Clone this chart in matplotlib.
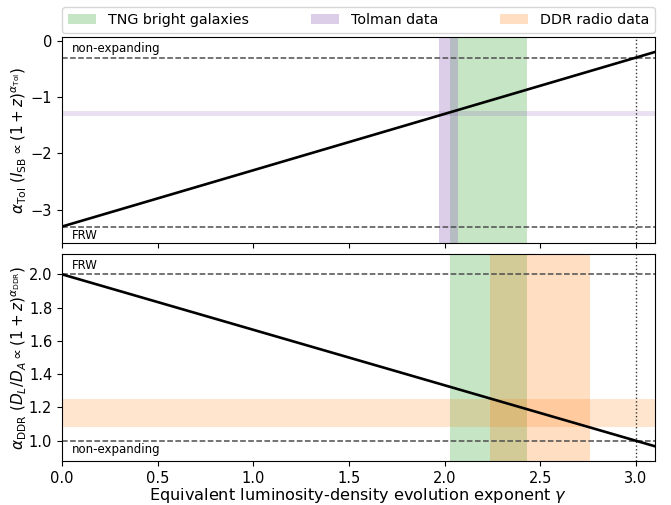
import numpy as np
from matplotlib import pyplot as plt

# equivalent evolution exponent range
gamma = np.array([0.0, 3.1])

# Tolman exponent: alpha_Tol = gamma - 3.3
tol_frw = -3.3
tol_static = -0.3
tol_line = gamma + tol_frw

# distance-duality exponent: alpha_DDR = 2 - gamma / 3
ddr_frw = 2.0
ddr_static = 1.0
ddr_line = ddr_frw - gamma / 3.0

# measured ranges
tng_gamma_top = [2.03, 2.43]
tng_gamma_bot = [2.03, 2.43]
tolman_gamma = [1.97, 2.07]
tolman_alpha = [-1.33, -1.24]
ddr_gamma = [2.24, 2.76]
ddr_alpha = [1.08, 1.25]

fig = plt.figure(figsize=(6.71, 5.05), dpi=100)
ax1 = fig.add_axes([0.0924, 0.519, 0.8836, 0.4077])
ax2 = fig.add_axes([0.0924, 0.0871, 0.8836, 0.4099], sharex=ax1)

green = 'tab:green'
purple = 'tab:purple'
orange = 'tab:orange'

# top panel: Tolman test
ax1.axvspan(*tng_gamma_top, color=green, alpha=0.27, lw=0, label='TNG bright galaxies')
ax1.axvspan(*tolman_gamma, color=purple, alpha=0.32, lw=0, label='Tolman data')
ax1.axhspan(*tolman_alpha, color=purple, alpha=0.2, lw=0)
ax1.axhline(tol_static, color='0.3', ls='--', lw=1.1)
ax1.axhline(tol_frw, color='0.3', ls='--', lw=1.1)
ax1.axvline(3.0, color='0.2', ls=':', lw=1)
ax1.plot(gamma, tol_line, color='k', lw=1.9)
ax1.text(0.05, tol_static + 0.05, 'non-expanding', fontsize=8.5, va='bottom')
ax1.text(0.05, tol_frw - 0.05, 'FRW', fontsize=8.5, va='top')
ax1.set_ylim(-3.59, 0.066)
ax1.set_yticks([0, -1, -2, -3])
ax1.set_ylabel(r'$\alpha_{\rm Tol}$ ($I_{\rm SB} \propto (1+z)^{\alpha_{\rm Tol}}$)', fontsize=11)
ax1.tick_params(labelbottom=False, labelsize=10.5)

# bottom panel: distance-duality relation
ax2.axvspan(*tng_gamma_bot, color=green, alpha=0.27, lw=0)
ax2.axvspan(*ddr_gamma, color=orange, alpha=0.25, lw=0, label='DDR radio data')
ax2.axhspan(*ddr_alpha, color=orange, alpha=0.2, lw=0)
ax2.axhline(ddr_frw, color='0.3', ls='--', lw=1.1)
ax2.axhline(ddr_static, color='0.3', ls='--', lw=1.1)
ax2.axvline(3.0, color='0.2', ls=':', lw=1)
ax2.plot(gamma, ddr_line, color='k', lw=1.9)
ax2.text(0.05, ddr_frw + 0.015, 'FRW', fontsize=8.5, va='bottom')
ax2.text(0.05, ddr_static - 0.015, 'non-expanding', fontsize=8.5, va='top')
ax2.set_ylim(0.878, 2.122)
ax2.set_yticks([1.0, 1.2, 1.4, 1.6, 1.8, 2.0])
ax2.set_xlim(0, 3.1)
ax2.set_xticks([0, 0.5, 1.0, 1.5, 2.0, 2.5, 3.0])
ax2.tick_params(labelsize=10.5)
ax2.set_ylabel(r'$\alpha_{\rm DDR}$ ($D_L/D_A \propto (1+z)^{\alpha_{\rm DDR}}$)', fontsize=11)
ax2.set_xlabel(r'Equivalent luminosity-density evolution exponent $\gamma$', fontsize=11.6,
               labelpad=0.5)

for ax in (ax1, ax2):
    ax.yaxis.set_label_coords(-0.057, 0.5)

h1, l1 = ax1.get_legend_handles_labels()
h2, l2 = ax2.get_legend_handles_labels()
ax1.legend(h1 + h2, l1 + l2, ncol=3, mode='expand', loc='lower left',
           bbox_to_anchor=(0, 1.02, 1, 0.1), borderaxespad=0, fontsize=10.3)

fig.savefig('out.png', dpi=100)
